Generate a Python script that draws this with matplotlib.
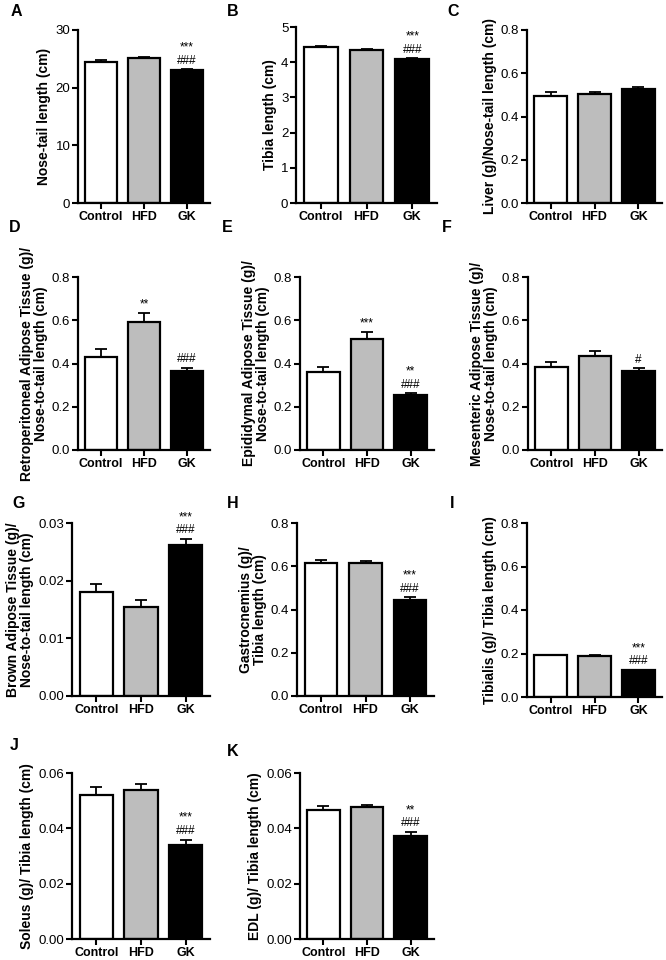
import matplotlib
matplotlib.use("Agg")
import matplotlib.pyplot as plt

plt.rcParams["font.family"] = ["Liberation Sans", "DejaVu Sans"]

W, H = 666, 960

groups = ["Control", "HFD", "GK"]
fills = ["white", "#bdbdbd", "black"]

# panel data: means, SEM, y ticks / tick labels, y label, annotations per bar
letters = ["A", "B", "C", "D", "E", "F", "G", "H", "I", "J", "K"]

means_A = [24.5, 25.1, 23.05]
err_A = [0.3, 0.2, 0.12]
means_B = [4.43, 4.35, 4.09]
err_B = [0.03, 0.03, 0.02]
means_C = [0.495, 0.505, 0.527]
err_C = [0.02, 0.01, 0.008]
means_D = [0.43, 0.59, 0.365]
err_D = [0.035, 0.042, 0.015]
means_E = [0.36, 0.515, 0.255]
err_E = [0.025, 0.03, 0.007]
means_F = [0.385, 0.435, 0.365]
err_F = [0.022, 0.025, 0.012]
means_G = [0.0180, 0.0155, 0.0262]
err_G = [0.0015, 0.0012, 0.0010]
means_H = [0.617, 0.615, 0.446]
err_H = [0.010, 0.008, 0.010]
means_I = [0.193, 0.190, 0.122]
err_I = [0.002, 0.002, 0.002]
means_J = [0.0521, 0.0540, 0.0341]
err_J = [0.0027, 0.0021, 0.0018]
means_K = [0.0466, 0.0478, 0.0373]
err_K = [0.0013, 0.0005, 0.0014]

ticks_30 = [0, 10, 20, 30]
ticks_5 = [0, 1, 2, 3, 4, 5]
ticks_08 = [0.0, 0.2, 0.4, 0.6, 0.8]
labels_08 = ["0.0", "0.2", "0.4", "0.6", "0.8"]
ticks_003 = [0.0, 0.01, 0.02, 0.03]
labels_003 = ["0.00", "0.01", "0.02", "0.03"]
ticks_006 = [0.0, 0.02, 0.04, 0.06]
labels_006 = ["0.00", "0.02", "0.04", "0.06"]

ylabels = [
    "Nose-tail length (cm)",
    "Tibia length (cm)",
    "Liver (g)/Nose-tail length (cm)",
    "Retroperitoneal Adipose Tissue (g)/\nNose-to-tail length (cm)",
    "Epididymal Adipose Tissue (g)/\nNose-to-tail length (cm)",
    "Mesenteric Adipose Tissue (g)/\nNose-to-tail length (cm)",
    "Brown Adipose Tissue (g)/\nNose-to-tail length (cm)",
    "Gastrocnemius (g)/\nTibia length (cm)",
    "Tibialis (g)/ Tibia length (cm)",
    "Soleus (g)/ Tibia length (cm)",
    "EDL (g)/ Tibia length (cm)",
]

# significance marks: (star line, hash line) per bar
sig_A = [("", ""), ("", ""), ("***", "###")]
sig_B = [("", ""), ("", ""), ("***", "###")]
sig_C = [("", ""), ("", ""), ("", "")]
sig_D = [("", ""), ("", "**"), ("", "###")]
sig_E = [("", ""), ("", "***"), ("**", "###")]
sig_F = [("", ""), ("", ""), ("", "#")]
sig_G = [("", ""), ("", ""), ("***", "###")]
sig_H = [("", ""), ("", ""), ("***", "###")]
sig_I = [("", ""), ("", ""), ("***", "###")]
sig_J = [("", ""), ("", ""), ("***", "###")]
sig_K = [("", ""), ("", ""), ("**", "###")]

panels = [
    (means_A, err_A, ticks_30, [str(t) for t in ticks_30], sig_A),
    (means_B, err_B, ticks_5, [str(t) for t in ticks_5], sig_B),
    (means_C, err_C, ticks_08, labels_08, sig_C),
    (means_D, err_D, ticks_08, labels_08, sig_D),
    (means_E, err_E, ticks_08, labels_08, sig_E),
    (means_F, err_F, ticks_08, labels_08, sig_F),
    (means_G, err_G, ticks_003, labels_003, sig_G),
    (means_H, err_H, ticks_08, labels_08, sig_H),
    (means_I, err_I, ticks_08, labels_08, sig_I),
    (means_J, err_J, ticks_006, labels_006, sig_J),
    (means_K, err_K, ticks_006, labels_006, sig_K),
]

# axes boxes in pixels: left, top, right, bottom
boxes = [
    (78, 30, 210, 203), (296, 27, 437, 203), (527, 30, 662, 203),
    (78, 277, 210, 450), (300, 277, 434, 450), (528, 277, 662, 450),
    (72, 523, 210, 696), (297, 523, 434, 696), (527, 523, 662, 697),
    (72, 773, 210, 939), (300, 773, 434, 939),
]
letter_pos = [
    (11, 11), (227, 11), (447, 11),
    (9, 228), (222, 228), (442, 228),
    (12, 504), (227, 504), (450, 504),
    (10, 745), (227, 752),
]

fig = plt.figure(figsize=(W / 100, H / 100), dpi=100)

x = range(len(groups))
for i, (means, errs, ticks, tlabels, sig) in enumerate(panels):
    l, t, r, b = boxes[i]
    ax = fig.add_axes([l / W, 1 - b / H, (r - l) / W, (b - t) / H])
    ax.bar(x, means, width=0.74, color=fills, edgecolor="black",
           linewidth=1.6, zorder=3)
    ax.errorbar(x, means, yerr=[[0, 0, 0], errs], fmt="none",
                ecolor="black", elinewidth=1.3, capsize=4.5,
                capthick=1.3, zorder=2)
    ax.set_xlim(-0.54, 2.54)
    ax.set_ylim(ticks[0], ticks[-1])
    ax.set_yticks(ticks)
    ax.set_yticklabels(tlabels, fontsize=9.5)
    ax.set_xticks(list(x))
    ax.set_xticklabels(groups, fontsize=9, fontweight="bold")
    ax.set_ylabel(ylabels[i], fontsize=10, fontweight="bold",
                  linespacing=1.0, labelpad=3)
    for s in ("top", "right"):
        ax.spines[s].set_visible(False)
    for s in ("left", "bottom"):
        ax.spines[s].set_linewidth(1.6)
    ax.spines["left"].set_zorder(4)
    ax.spines["bottom"].set_zorder(4)
    ax.tick_params(width=1.5, length=4, pad=1.5)
    for j, (star, hsh) in enumerate(sig):
        top = means[j] + errs[j]
        if hsh:
            ax.annotate(hsh, (j, top), xytext=(0, 2),
                        textcoords="offset points", ha="center",
                        va="bottom", fontsize=8.5)
        if star:
            ax.annotate(star, (j, top), xytext=(0, 11.5),
                        textcoords="offset points", ha="center",
                        va="bottom", fontsize=8.5)
    lx, ly = letter_pos[i]
    fig.text(lx / W, 1 - ly / H, letters[i], fontsize=11.5,
             fontweight="bold", ha="left", va="center")

fig.savefig("out.png", dpi=100)
